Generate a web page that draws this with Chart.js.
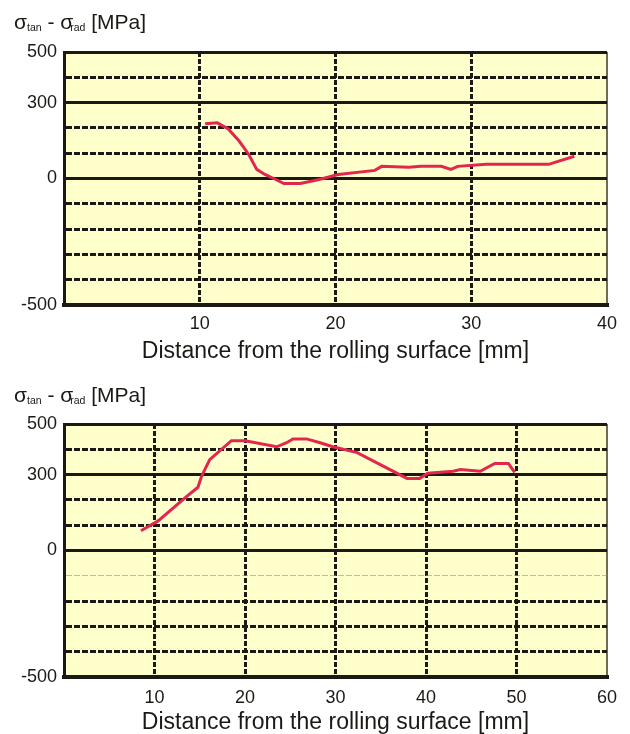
<!DOCTYPE html>
<html>
<head>
<meta charset="utf-8">
<script src="https://cdn.jsdelivr.net/npm/chart.js@4.4.1/dist/chart.umd.min.js"></script>
<style>
  html, body { margin: 0; padding: 0; background: #fff; }
  body { width: 630px; height: 734px; position: relative; overflow: hidden; font-family: "Liberation Sans", Arial, sans-serif; color: #1c1915; }
  .panel { position: absolute; left: 0; width: 630px; height: 367px; }
  .panel canvas { position: absolute; left: 0; top: 0; }
  .ylab { position: absolute; left: 14px; font-size: 21px; line-height: 21px; white-space: nowrap; z-index: 2; }
  .ylab sub { font-size: 10.5px; vertical-align: -2px; line-height: 0; }
  .ylab sub.r { margin-left: -3px; }
</style>
</head>
<body>
<div class="panel" style="top:0px">
  <canvas id="c1" width="630" height="367"></canvas>
  <div class="ylab" style="top:11px">σ<sub>tan</sub> - σ<sub class="r">rad</sub> [MPa]</div>
</div>
<div class="panel" style="top:367px">
  <canvas id="c2" width="630" height="367"></canvas>
  <div class="ylab" style="top:17px">σ<sub>tan</sub> - σ<sub class="r">rad</sub> [MPa]</div>
</div>
<script>
// distance [mm] and stress difference [MPa]
const topX = [10.4, 11.3, 12.1, 12.9, 13.6, 14.2, 14.8, 15.6, 16.2, 17.4, 18.8, 20.2, 22.9, 23.4, 25.4, 26.3, 27.8, 28.5, 29.0, 31.1, 35.7, 37.6];
const topY = [216, 220, 196, 148, 96, 36, 16, -4, -20, -20, -4, 16, 32, 48, 44, 48, 48, 36, 48, 56, 56, 88];

const botX = [8.5, 10.4, 13.6, 14.8, 15.2, 16.1, 18.5, 20.0, 23.5, 24.6, 25.3, 26.8, 28.3, 29.7, 32.4, 37.9, 39.3, 40.2, 43.0, 43.8, 46.0, 47.6, 49.1, 49.8];
const botY = [78, 117, 215, 250, 293, 359, 434, 434, 410, 426, 441, 441, 426, 410, 387, 285, 285, 305, 313, 320, 313, 344, 344, 309];

const yLabels = [-500, 0, 300, 500];   // only these get a label
const ySolid = [-500, 0, 300, 500];    // full lines, the rest dashed
const xTitle = 'Distance from the rolling surface [mm]';

const INK = '#1c1915';
const EDGE = '#6e6c52';
const FAINT = 'rgba(150, 150, 130, 0.6)';
const RED = 'rgb(226, 38, 78)';
const PLOT_BG = '#ffffcc';

Chart.defaults.font.family = '"Liberation Sans", Arial, sans-serif';

const plotBg = {
  id: 'plotBg',
  beforeDraw(chart) {
    const { ctx, chartArea: a } = chart;
    ctx.save();
    ctx.fillStyle = PLOT_BG;
    ctx.fillRect(a.left, a.top, a.right - a.left, a.bottom - a.top);
    ctx.restore();
  },
};

function drawPanel(id, xs, ys, xMax, o) {
  const faint = o.faint || [];
  return new Chart(document.getElementById(id), {
    type: 'line',
    data: {
      datasets: [{
        data: xs.map((x, i) => ({ x, y: ys[i] })),
        borderColor: RED,
        borderWidth: 3,
        pointRadius: 0,
        tension: 0,
        fill: false,
      }],
    },
    options: {
      responsive: false,
      animation: false,
      events: [],
      layout: { padding: { top: o.top, right: 23, left: 0, bottom: 0 } },
      plugins: { legend: { display: false }, tooltip: { enabled: false } },
      scales: {
        x: {
          type: 'linear',
          min: 0,
          max: xMax,
          afterFit: (s) => { s.height = o.axisH; },
          ticks: {
            stepSize: 10,
            padding: o.tickPad,
            color: INK,
            font: { size: 18 },
            maxRotation: 0,
            callback: (v) => (v === 0 ? '' : v),
          },
          grid: {
            drawTicks: false,
            color: (c) => (c.tick.value === 0 ? 'rgba(0,0,0,0)' : c.tick.value === xMax ? EDGE : INK),
            lineWidth: (c) => (c.tick.value === xMax ? 2 : 3),
          },
          border: {
            color: INK,
            width: 4,
            dash: (c) => (c.tick && c.tick.value > 0 && c.tick.value < xMax ? [5, 2] : []),
          },
          title: {
            display: true,
            text: xTitle,
            color: INK,
            font: { size: 23, lineHeight: 1 },
            padding: { top: 0, bottom: o.titlePad },
          },
        },
        y: {
          min: -500,
          max: 500,
          afterFit: (s) => { s.width = 64; },
          ticks: {
            stepSize: 100,
            autoSkip: false,
            padding: 7,
            color: INK,
            font: { size: 18 },
            callback: (v) => (yLabels.includes(v) ? v : ''),
          },
          grid: {
            drawTicks: false,
            color: (c) => (faint.includes(c.tick.value) ? FAINT : INK),
            lineWidth: (c) => (faint.includes(c.tick.value) ? 1 : 3),
          },
          border: {
            color: INK,
            width: 3,
            dash: (c) => (c.tick && !ySolid.includes(c.tick.value) ? [6, 2] : []),
          },
        },
      },
    },
    plugins: [plotBg],
  });
}

drawPanel('c1', topX, topY, 40, { top: 52, axisH: 62, tickPad: 8, titlePad: 4 });
drawPanel('c2', botX, botY, 60, { top: 57, axisH: 57, tickPad: 10, titlePad: 0, faint: [-100] });
</script>
</body>
</html>
